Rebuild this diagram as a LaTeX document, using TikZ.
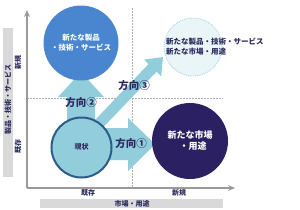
\documentclass[tikz,border=0pt]{standalone}
\usepackage{fontspec}
\newfontfamily\jp{Noto Sans CJK JP}
\usetikzlibrary{arrows.meta}
\definecolor{lightarrow}{HTML}{92CDDC}
\definecolor{blueone}{HTML}{4A86D0}
\definecolor{navy}{HTML}{2B2162}
\definecolor{curfill}{HTML}{92CDDC}
\definecolor{curborder}{HTML}{2E5C8A}
\definecolor{palefill}{HTML}{EAF5F8}
\definecolor{paleborder}{HTML}{9DD0DE}
\definecolor{txtnavy}{HTML}{2B2A5E}
\definecolor{barcol}{HTML}{D9D9D9}
\definecolor{axiscol}{HTML}{9A9A9A}
\definecolor{dashcol}{HTML}{B0B0B0}
\tikzset{
  circbase/.style={circle, inner sep=0pt, align=center},
  dirlabel/.style={text=txtnavy, font=\jp\bfseries\fontsize{10.5}{12}\selectfont, inner sep=0pt},
  axislabel/.style={text=txtnavy, font=\jp\bfseries\fontsize{7}{8}\selectfont, inner sep=0pt},
  guide/.style={dashcol, dash pattern=on 1.5pt off 1.5pt, line width=0.8pt},
  axisline/.style={axiscol, line width=1.3pt, -{Stealth[length=7pt,width=6pt]}},
  blockarrow/.style={fill=lightarrow, draw=none}
}
\begin{document}
\begin{tikzpicture}[x=1pt,y=-1pt]
\useasboundingbox (0,0) rectangle (300,209);
% gray bars
\fill[barcol] (3,28) rectangle (13,177);
\fill[barcol] (40,199) rectangle (223,208);
% guide lines
\draw[guide] (132,8) -- (132,188);
\draw[guide] (27,98) -- (223,98);
% axes
\coordinate (origin) at (27,188);
\coordinate (ytip) at (27,10);
\coordinate (xtip) at (235,188);
\draw[axisline] (origin) -- (ytip);
\draw[axisline] (origin) -- (xtip);
% block arrows
\fill[blockarrow] (67,135) -- (67,97) -- (58,97) -- (81,72) -- (104,97) -- (95,97) -- (95,135) -- cycle;
\begin{scope}[shift={(93,130)}, rotate=46.2]
\fill[blockarrow] (0,-5.5) -- (86,-5.5) -- (86,-12) -- (101,0) -- (86,12) -- (86,5.5) -- (0,5.5) -- cycle;
\end{scope}
\fill[blockarrow] (90,128) -- (128,128) -- (128,118) -- (155,144) -- (128,171) -- (128,160) -- (90,160) -- cycle;
% circles
\node[circbase, fill=blueone, minimum size=75pt, text=white,
      font=\jp\bfseries\fontsize{7.5}{10}\selectfont] (newprod) at (81,43) {\raisebox{-2pt}{新たな製品}\\\raisebox{-2pt}{・技術・サービス}};
\node[circbase, fill=palefill, draw=paleborder, densely dotted, line width=0.8pt, minimum size=58pt] (both) at (193,47) {};
\node[anchor=west, align=left, inner sep=0pt, text=txtnavy,
      font=\jp\bfseries\fontsize{7.5}{10}\selectfont] (bothlbl) at (166,47) {新たな製品・技術・サービス\\新たな市場・用途};
\node[circbase, fill=navy, minimum size=76pt, text=white,
      font=\jp\bfseries\fontsize{9}{11}\selectfont] (newmkt) at (190,141) {新たな市場\\\hspace{6pt}・用途};
\node[circbase, fill=curfill, draw=curborder, line width=2pt, minimum size=60pt, text=txtnavy,
      font=\jp\bfseries\fontsize{7}{8}\selectfont] (current) at (81.5,147.5) {\raisebox{2pt}{現状}};
% direction labels
\node[dirlabel] (dir1) at (131,144) {方向①};
\node[dirlabel] (dir2) at (81,103) {方向②};
\node[dirlabel] (dir3) at (134,86) {方向③};
% axis labels
\node[axislabel, rotate=90] (yaxis) at (8,99) {製品・技術・サービス};
\node[axislabel, rotate=90] (ynew) at (18,62) {新規};
\node[axislabel, rotate=90] (yold) at (18,146) {既存};
\node[axislabel] (xaxis) at (132,203.5) {市場・用途};
\node[axislabel] (xold) at (88,193) {既存};
\node[axislabel] (xnew) at (179,193) {新規};
\end{tikzpicture}
\end{document}
